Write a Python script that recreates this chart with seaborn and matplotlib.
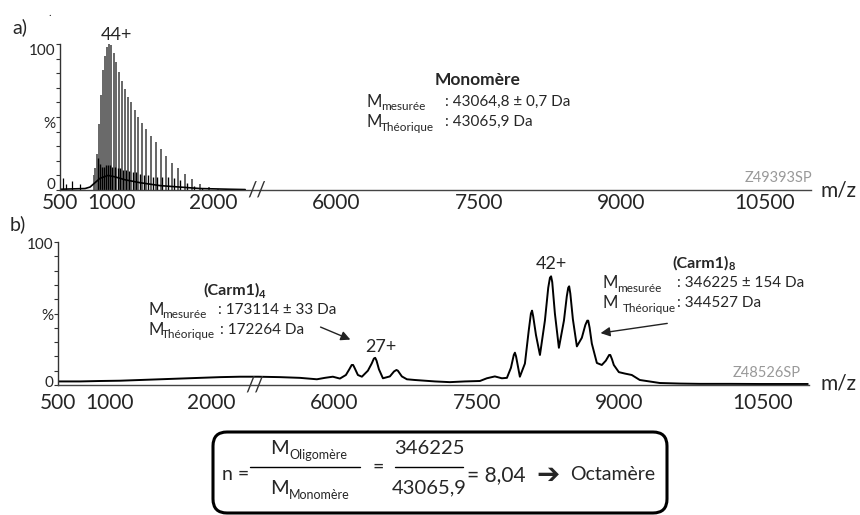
import numpy as np
import matplotlib
matplotlib.use("Agg")
import matplotlib.pyplot as plt
import seaborn as sns
from matplotlib.patches import FancyBboxPatch
from matplotlib.lines import Line2D
from matplotlib.transforms import IdentityTransform

# ---- data ----
# a) monomer, charge-state sticks (m/z, % intensity)
mono_mz = [829, 845, 862, 880, 898, 917, 937, 958, 980, 1002, 1026, 1051, 1078, 1105,
           1134, 1165, 1197, 1231, 1268, 1306, 1347, 1390, 1436, 1486, 1539, 1596, 1657,
           1724, 1795, 1873, 1958, 2052, 2154]
mono_int = [10, 15, 25, 45, 65, 82, 92, 98, 100, 99, 94, 88, 81, 75, 69, 64, 60, 55, 50,
            46, 42, 37, 33, 28, 23, 18.5, 15, 11, 7.5, 4, 2, 1, 0.5]
# small companion peaks next to the main ones
adduct_mz = [872, 890, 909, 928, 948, 970, 991, 1014, 1038, 1064, 1091, 1118, 1148, 1179,
             1211, 1246, 1283, 1322, 1363, 1407, 1453, 1504, 1557, 1615, 1677, 1745, 1817, 1895]
adduct_int = [22, 18, 16, 16, 17, 17, 17, 16, 16, 15, 15, 14, 14, 13, 12, 12, 11, 10, 10,
              9, 9, 9, 9, 8, 7, 5, 3, 1.5]
# low m/z noise peaks
noise_mz = [529, 560, 618, 696]
noise_int = [8, 4, 6, 4]
# broad hump under the sticks
hump_mz = [500, 745, 794, 843, 892, 971, 1039, 1137, 1284, 1480, 1676, 1873, 2167, 2314]
hump_int = [0.5, 1, 2, 5, 8, 10, 9, 7, 5, 3, 2, 1, 0.5, 0.3]

# b) native spectrum profile (m/z, % intensity)
prof_mz = [500, 716, 912, 1108, 1304, 1500, 1696, 1892, 2088, 2284, 2402,
           5200, 5431, 5641, 5819, 5903, 5987, 6061, 6124, 6160, 6185, 6200, 6215, 6250,
           6292, 6355, 6395, 6418, 6432, 6446, 6471, 6513, 6586, 6630, 6655, 6670, 6712,
           6765, 6849, 6954, 7059, 7216, 7374, 7532, 7605, 7689, 7763, 7816, 7858, 7888,
           7900, 7912, 7952, 8005, 8045, 8068, 8080, 8092, 8121, 8163, 8215, 8250, 8268,
           8280, 8292, 8320, 8362, 8415, 8445, 8460, 8470, 8482, 8509, 8551, 8603, 8640,
           8660, 8670, 8685, 8708, 8761, 8813, 8855, 8890, 8902, 8920, 8939, 8992, 9055,
           9128, 9212, 9422, 9632, 9842, 10158, 10473, 10788, 10977]
prof_int = [2.5, 2.5, 2.8, 3, 3.5, 4, 4.5, 5, 5.5, 5.8, 5.8,
            5.8, 5.5, 5, 4, 5, 5.8, 4.5, 7, 11, 14, 14, 12, 7,
            5.8, 10, 15, 18.5, 19, 17, 11, 4.7, 6, 9.5, 10.5, 10, 6,
            4, 3.5, 3, 2.5, 2, 2.5, 2.8, 4.7, 6, 4.7, 5, 12, 21,
            22.6, 20, 5.8, 15, 38, 50, 52, 48, 35, 21, 45, 68, 75,
            76, 72, 50, 26, 45, 62, 68, 69, 64, 46, 27, 33, 42,
            45, 45, 40, 29, 15.4, 14, 17, 21, 21, 18, 14, 9, 8,
            7, 3.5, 1.4, 1, 0.8, 0.8, 0.7, 0.7, 0.7]

x_ticks = [500, 1000, 2000, 6000, 7500, 9000, 10500]

# broken m/z axis: piecewise linear scale
knot_mz = [0, 500, 2400, 5200, 11000, 20000]
knot_u = [-51, 0, 194, 200, 752.1, 1609]


def fwd(x):
    return np.interp(x, knot_mz, knot_u)


def inv(u):
    return np.interp(u, knot_u, knot_mz)


sns.set_style("ticks")
plt.rcParams['font.family'] = ['Lato', 'DejaVu Sans']

W, H = 860, 515
fig = plt.figure(figsize=(8.6, 5.15), dpi=100)


def ftxt(x, y, s, **kw):
    kw.setdefault('va', 'center')
    kw.setdefault('ha', 'left')
    fig.text(x / W, 1 - y / H, s, **kw)


axa = fig.add_axes([60 / W, 1 - 190 / H, 751 / W, 146 / H])
axb = fig.add_axes([58 / W, 1 - 385 / H, 751 / W, 143 / H])

# y label positions (labels sit a little inside the 0 / 100 ends)
ylab_a = [4.6, 45.9, 95.9]
ylab_b = [2.2, 49, 99.3]

for ax, ylab in ((axa, ylab_a), (axb, ylab_b)):
    ax.set_xscale('function', functions=(fwd, inv))
    ax.set_xlim(500, 10990)
    ax.set_ylim(0, 100)
    ax.set_xticks(x_ticks)
    ax.set_xticklabels([str(t) for t in x_ticks])
    ax.set_yticks(ylab)
    ax.set_yticklabels(['0', '%', '100'])
    ax.set_yticks(range(0, 101, 10), minor=True)
    ax.tick_params(axis='x', length=0, pad=2, labelsize=15)
    ax.tick_params(axis='y', which='major', length=0, pad=3, labelsize=11)
    ax.tick_params(axis='y', which='minor', direction='out', length=3, width=0.8,
                   color='#333')
    sns.despine(ax=ax)
    ax.spines['left'].set_linewidth(1.0)
    ax.spines['bottom'].set_linewidth(1.0)
    ax.spines['left'].set_color('#333')
    ax.spines['bottom'].set_color('#444')
    ax.set_facecolor('none')
    ax.text(3800, 0, '//', ha='center', va='center', fontsize=15, color='#333')

axb.tick_params(axis='x', pad=6)

# panel a
axa.vlines(mono_mz, 0, mono_int, color='#5a5a5a', lw=1.3)
axa.vlines(adduct_mz, 0, adduct_int, color='black', lw=1.0)
axa.vlines(noise_mz, 0, noise_int, color='black', lw=0.9)
sns.lineplot(x=hump_mz, y=hump_int, ax=axa, color='black', lw=1.2)
axa.set_xlabel('')
axa.annotate('44+', xy=(980, 100), xytext=(5, 1), textcoords='offset points',
             ha='center', va='bottom', fontsize=13)

# panel b
sns.lineplot(x=prof_mz, y=prof_int, ax=axb, color='black', lw=1.4)
axb.set_xlabel('')
axb.annotate('27+', xy=(6432, 19), xytext=(4, 2), textcoords='offset points',
             ha='center', va='bottom', fontsize=13)
axb.annotate('42+', xy=(8280, 76), xytext=(0, 3), textcoords='offset points',
             ha='center', va='bottom', fontsize=13)
axb.annotate('', xy=(6198, 31), xytext=(318, H - 326), textcoords='figure pixels',
             arrowprops=dict(arrowstyle='-|>', lw=1, color='#222', mutation_scale=14))
axb.annotate('', xy=(8771, 36), xytext=(670, H - 323), textcoords='figure pixels',
             arrowprops=dict(arrowstyle='-|>', lw=1, color='#222', mutation_scale=14))

# labels
ftxt(12, 27, 'a)', fontsize=14)
ftxt(48, 13, '.', fontsize=8)
ftxt(10, 224, 'b)', fontsize=14)
ftxt(838, 190, 'm/z', ha='center', fontsize=15)
ftxt(838, 384, 'm/z', ha='center', fontsize=15)
ftxt(778, 178, 'Z49393SP', ha='center', fontsize=10.5, color='#999999')
ftxt(767, 373, 'Z48526SP', ha='center', fontsize=10.5, color='#999999')

# monomer block
ftxt(478, 80, 'Monomère', ha='center', fontsize=12.5, fontweight='bold')
ftxt(367, 102, 'M', fontsize=12)
ftxt(381, 107, 'mesurée', fontsize=8.5)
ftxt(445, 102, ': 43064,8 ± 0,7 Da', fontsize=11)
ftxt(367, 122, 'M', fontsize=12)
ftxt(381, 127, 'Théorique', fontsize=8.5)
ftxt(445, 122, ': 43065,9 Da', fontsize=11)

# tetramer block
ftxt(203, 290, '(Carm1)', fontsize=11.5, fontweight='bold')
ftxt(259, 294, '4', fontsize=8, fontweight='bold')
ftxt(148, 310, 'M', fontsize=12)
ftxt(162, 315, 'mesurée', fontsize=8.5)
ftxt(218, 310, ': 173114 ± 33 Da', fontsize=11)
ftxt(148, 330, 'M', fontsize=12)
ftxt(162, 335, 'Théorique', fontsize=8.5)
ftxt(220, 330, ': 172264 Da', fontsize=11)

# octamer block
ftxt(672, 263, '(Carm1)', fontsize=11.5, fontweight='bold')
ftxt(729, 267, '8', fontsize=8, fontweight='bold')
ftxt(603, 283, 'M', fontsize=12)
ftxt(617, 288, 'mesurée', fontsize=8.5)
ftxt(677, 283, ': 346225 ± 154 Da', fontsize=11)
ftxt(603, 303, 'M', fontsize=12)
ftxt(623, 308, 'Théorique', fontsize=8.5)
ftxt(677, 303, ': 344527 Da', fontsize=11)

# oligomer calculation box
box = FancyBboxPatch((213, 2), 454, 81, boxstyle='round,pad=0,rounding_size=14',
                     transform=IdentityTransform(), fill=False, lw=2.2, ec='black')
fig.add_artist(box)
ftxt(222, 475, 'n =', fontsize=14)
fig.add_artist(Line2D([250 / W, 360 / W], [1 - 467 / H] * 2, color='black', lw=1))
fig.add_artist(Line2D([395 / W, 463 / W], [1 - 467 / H] * 2, color='black', lw=1))
ftxt(270, 448, 'M', fontsize=14.5)
ftxt(289, 455, 'Oligomère', fontsize=9)
ftxt(270, 488, 'M', fontsize=14.5)
ftxt(289, 495, 'Monomère', fontsize=9)
ftxt(378, 467, '=', ha='center', fontsize=14)
ftxt(429, 448, '346225', ha='center', fontsize=14.5)
ftxt(429, 488, '43065,9', ha='center', fontsize=14.5)
ftxt(467, 475, '= 8,04', fontsize=15)
ftxt(536, 475, '➔', fontsize=20, fontweight='bold', family=['DejaVu Sans'])
ftxt(570, 475, 'Octamère', fontsize=14)

fig.savefig('out.png', dpi=100)
